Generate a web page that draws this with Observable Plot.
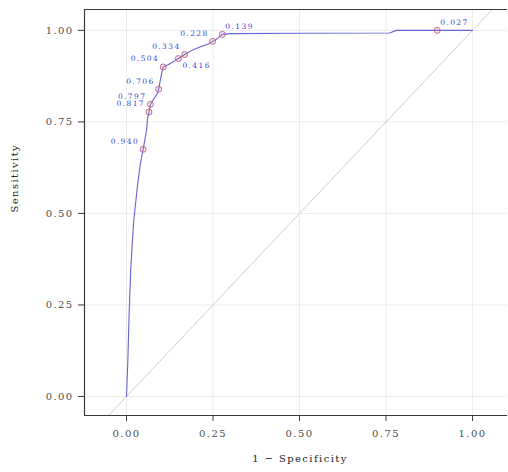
<!DOCTYPE html>
<html><head><meta charset="utf-8">
<script src="https://cdn.jsdelivr.net/npm/d3@7"></script>
<script src="https://cdn.jsdelivr.net/npm/@observablehq/plot@0.6"></script>
<style>body{margin:0;background:#fff;} svg{display:block;}</style>
</head><body><div id="chart"></div>
<script>
// ROC curve (1 - specificity, sensitivity)
const curveFpr = [0, 0.004, 0.007, 0.012, 0.016, 0.021, 0.031, 0.040, 0.048, 0.053, 0.058, 0.061, 0.065, 0.069, 0.078, 0.088, 0.093, 0.097, 0.101, 0.106, 0.120, 0.135, 0.150, 0.168, 0.190, 0.215, 0.235, 0.249, 0.263, 0.277, 0.300, 0.500, 0.760, 0.780, 0.898, 1.000];
const curveTpr = [0, 0.100, 0.210, 0.340, 0.410, 0.480, 0.570, 0.636, 0.675, 0.700, 0.730, 0.760, 0.777, 0.798, 0.812, 0.826, 0.839, 0.860, 0.880, 0.900, 0.906, 0.914, 0.923, 0.934, 0.946, 0.956, 0.962, 0.970, 0.978, 0.989, 0.991, 0.992, 0.993, 1.000, 1.000, 1.000];
// labelled thresholds
const thrLabels = ["0.940", "0.817", "0.797", "0.706", "0.504", "0.416", "0.334", "0.228", "0.139", "0.027"];
const thrFpr = [0.048, 0.065, 0.069, 0.093, 0.106, 0.150, 0.168, 0.249, 0.277, 0.898];
const thrTpr = [0.675, 0.777, 0.798, 0.839, 0.900, 0.923, 0.934, 0.970, 0.989, 1.000];
const xTicks = [0, 0.25, 0.5, 0.75, 1];
const yTicks = [0, 0.25, 0.5, 0.75, 1];
const xTitle = "1 − Specificity";
const yTitle = "Sensitivity";

const xDomain = [-0.1214, 1.1011];
const yDomain = [-0.052, 1.057];

const curve = curveFpr.map((x, i) => ({x, y: curveTpr[i]}));
const thr = thrLabels.map((label, i) => ({label, x: thrFpr[i], y: thrTpr[i]}));
const rightBelow = new Set(["0.416"]);
const rightAbove = new Set(["0.139", "0.027"]);
const leftAbove = thr.filter(d => !rightBelow.has(d.label) && !rightAbove.has(d.label));
const diag = [xDomain[0] - 0.1, xDomain[1] + 0.1];

const font = "DejaVu Serif";
const axisCol = "#3a3a3a";
const labCol = "#4040d8";

const chart = Plot.plot({
  width: 508,
  height: 472,
  marginLeft: 84,
  marginRight: 1,
  marginTop: 9,
  marginBottom: 57,
  style: {fontFamily: font, background: "#fff", letterSpacing: "1.4px"},
  x: {domain: xDomain},
  y: {domain: yDomain},
  marks: [
    Plot.gridX(xTicks, {stroke: "#ececec", strokeOpacity: 1}),
    Plot.gridY(yTicks, {stroke: "#ececec", strokeOpacity: 1}),
    Plot.line(diag, {x: d => d, y: d => d, stroke: "#cfcfcf", strokeWidth: 1, clip: true}),
    Plot.line(curve, {x: "x", y: "y", stroke: "#6565d8", strokeWidth: 1.1}),
    Plot.dot(thr, {x: "x", y: "y", r: 3, stroke: "#c46a86", fill: "#c46a86", fillOpacity: 0.15, strokeWidth: 1}),
    Plot.text(leftAbove, {x: "x", y: "y", text: "label", textAnchor: "end", dx: -4, dy: -8, fill: labCol, fontSize: 7.5, fontFamily: font}),
    Plot.text(thr.filter(d => rightBelow.has(d.label)), {x: "x", y: "y", text: "label", textAnchor: "start", dx: 4, dy: 7, fill: labCol, fontSize: 7.5, fontFamily: font}),
    Plot.text(thr.filter(d => rightAbove.has(d.label)), {x: "x", y: "y", text: "label", textAnchor: "start", dx: 3, dy: -8, fill: labCol, fontSize: 7.5, fontFamily: font}),
    Plot.ruleY([yDomain[1]], {stroke: axisCol, strokeWidth: 1.2}),
    Plot.ruleY([yDomain[0]], {stroke: axisCol, strokeWidth: 1.2}),
    Plot.ruleX([xDomain[0]], {stroke: axisCol, strokeWidth: 1.2}),
    Plot.axisX(xTicks, {tickFormat: d3.format(".2f"), tickSize: 6, tickPadding: 8, fontSize: 10, label: null, stroke: axisCol, fill: "#4d4d4d"}),
    Plot.axisY(yTicks, {tickFormat: d3.format(".2f"), tickSize: 6, tickPadding: 5, fontSize: 10, label: null, stroke: axisCol, fill: "#4d4d4d"}),
    Plot.text([xTitle], {frameAnchor: "bottom", dx: 4, dy: 46, fontSize: 10, fill: "#222", fontFamily: font}),
    Plot.text([yTitle], {frameAnchor: "left", dx: -70, rotate: -90, fontSize: 10, fill: "#222", fontFamily: font})
  ]
});
document.getElementById("chart").appendChild(chart);
</script>
</body></html>
